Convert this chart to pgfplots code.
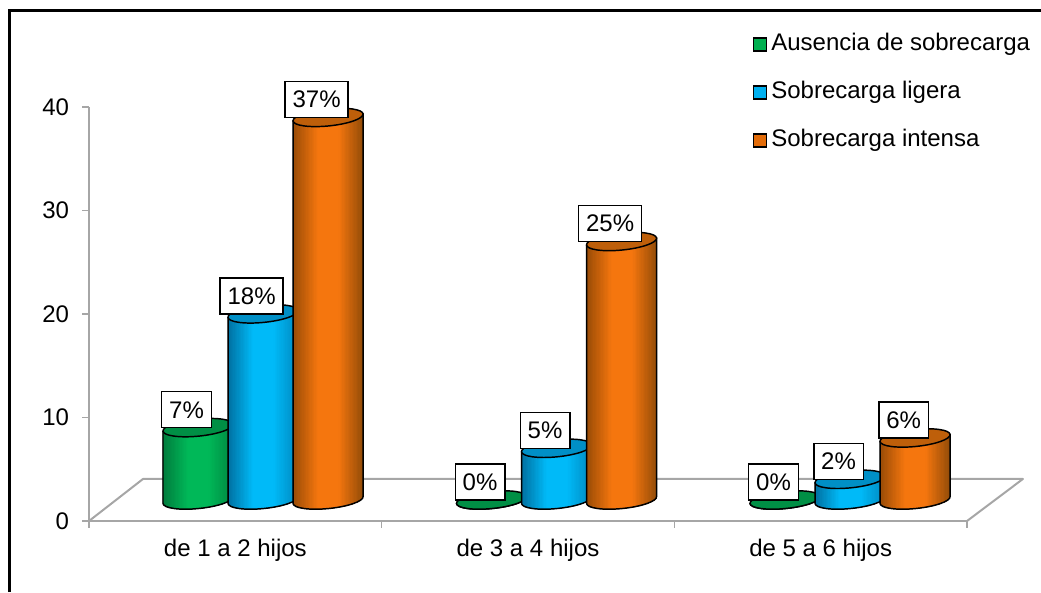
\documentclass[border=0pt]{standalone}
\usepackage{fontspec}
\setmainfont{Liberation Sans}
\usepackage{pgfplots}
\pgfplotsset{compat=1.18}
\definecolor{gL}{HTML}{007A3C}\definecolor{gM}{HTML}{00B858}\definecolor{gR}{HTML}{00843F}\definecolor{gT}{HTML}{008F45}
\definecolor{bL}{HTML}{006E9E}\definecolor{bM}{HTML}{00BAF8}\definecolor{bR}{HTML}{0086BC}\definecolor{bT}{HTML}{008FC6}
\definecolor{oL}{HTML}{964A06}\definecolor{oM}{HTML}{F5760E}\definecolor{oR}{HTML}{8F4A08}\definecolor{oT}{HTML}{BE5F0A}
\definecolor{lg}{HTML}{00B050}\definecolor{lb}{HTML}{00B0F0}\definecolor{lo}{HTML}{E36C09}
\definecolor{ax}{HTML}{A6A6A6}
\pgfdeclareplotmark{nothing}{}
\newcommand{\txt}{\fontsize{18}{22}\selectfont}
\newcommand{\bodypath}{%
    (-26.27pt,-2.62pt) -- (-26.27pt,\ya pt)
    .. controls (-25.92pt,\yb pt) and (-13.87pt,\yc pt) .. (0.636pt,\yd pt)
    .. controls (15.15pt,\ye pt) and (26.62pt,\yf pt) .. (26.27pt,\yg pt)
    -- (26.27pt,2.62pt) -- cycle}
% one cylinder, with its top at the data point and its height taken from the value
\newcommand{\drawcyl}[4]{%
  \pgfmathsetmacro\ya{-2.62-\val*7.755}%
  \pgfmathsetmacro\yb{-6.14-\val*7.755}%
  \pgfmathsetmacro\yc{-7.82-\val*7.755}%
  \pgfmathsetmacro\yd{-6.37-\val*7.755}%
  \pgfmathsetmacro\ye{-4.92-\val*7.755}%
  \pgfmathsetmacro\yf{-0.90-\val*7.755}%
  \pgfmathsetmacro\yg{2.62-\val*7.755}%
  \pgfmathsetmacro\ybot{\yc-3}%
  \begin{scope}
    \expandafter\clip\bodypath;
    \foreach \i in {0,...,53}{%
      \pgfmathsetmacro\xs{\i-27}%
      \ifnum\i<27
        \pgfmathtruncatemacro\p{min(100,140*\i/27)}%
        \fill[#2!\p!#1] (\xs pt,5pt) rectangle (27pt,\ybot pt);
      \else
        \pgfmathtruncatemacro\p{min(100,140*(54-\i)/27)}%
        \fill[#2!\p!#3] (\xs pt,5pt) rectangle (27pt,\ybot pt);
      \fi
    }%
  \end{scope}
  \expandafter\draw\expandafter[\bodystroke]\bodypath;
  \path[draw=black,line width=1.1pt,fill=#4]
    (-26.27pt,-2.62pt)
    .. controls (-25.92pt,-6.14pt) and (-13.87pt,-7.82pt) .. (0.636pt,-6.37pt)
    .. controls (15.15pt,-4.92pt) and (26.62pt,-0.90pt) .. (26.27pt,2.62pt)
    .. controls (25.92pt,6.14pt) and (13.87pt,7.82pt) .. (-0.636pt,6.37pt)
    .. controls (-15.15pt,4.92pt) and (-26.62pt,0.90pt) .. (-26.27pt,-2.62pt) -- cycle;
  \node[draw=black,fill=white,line width=1.1pt,inner ysep=0pt,inner xsep=5.6pt,minimum height=27pt,
    font=\txt,anchor=center]
    at (-8.6pt,13.4pt) {\pgfmathprintnumber[fixed,precision=0,assume math mode=true]{\val}\%};
}
\newcommand{\bodystroke}{black,line width=1.1pt,line join=round}
\pgfplotsset{cyl/.style n args={5}{only marks,scatter,mark=nothing,
    visualization depends on={rawy \as \val},
    scatter/@pre marker code/.code={},
    scatter/@post marker code/.code={\drawcyl{#1}{#2}{#3}{#4}},
    legend image code/.code={\draw[black,line width=1.1pt,fill=#5] (0pt,-4.8pt) rectangle (9.8pt,5pt);}}}
\begin{document}
\begin{tikzpicture}
\path[use as bounding box] (0,0) rectangle (780.75pt,-444pt);
\draw[black,line width=2.7pt] (7.1pt,-444pt) -- (7.1pt,-7.9pt) -- (780.75pt,-7.9pt);
% axes and floor
\begin{axis}[at={(66.75pt,-390.75pt)},anchor=south west,scale only axis,
  width=658.5pt,height=310.5pt,clip=false,
  xmin=0,xmax=3,ymin=0,ymax=40,
  axis x line*=bottom,axis y line*=left,axis line style={-,ax,line width=1.5pt},
  tick style={ax,line width=1.2pt},tick align=outside,major tick length=5pt,
  /pgf/number format/assume math mode=true,
  ytick={0,10,20,30,40},
  yticklabel style={font=\txt,text=black,xshift=-6.5pt},
  xtick={0,1,2,3},xticklabels={},
  extra x ticks={0.5,1.5,2.5},
  extra x tick labels={de 1 a 2 hijos,de 3 a 4 hijos,de 5 a 6 hijos},
  extra x tick style={major tick length=0pt,tick style={draw=none},
    xticklabel style={font=\txt,text=black,yshift=-10pt}},
]
\draw[ax,line width=1.5pt,line join=round] (axis cs:0,0) -- (axis cs:0.1845,4.06) -- (axis cs:3.191,4.06) -- (axis cs:3,0);
\end{axis}
% cylinders and legend
\begin{axis}[at={(66.75pt,-390.75pt)},anchor=south west,scale only axis,
  width=658.5pt,height=310.5pt,clip=false,axis lines=none,
  xmin=0.407,xmax=3.3985,ymin=-2.031,ymax=38.008,
  legend cell align=left,
  legend style={at={(rel axis cs:0.7557,1.179)},anchor=north west,draw=none,fill=none,inner sep=0pt,
    row sep=19pt,font=\txt,
    nodes={inner sep=0pt,text height=13pt,text depth=4pt},
    /tikz/column 1/.style={column sep=3pt}},
]
\addplot[cyl={gL}{gM}{gR}{gT}{lg}] coordinates {(0.7785,7) (1.7785,0) (2.7785,0)};
\addlegendentry{Ausencia de sobrecarga}
\addplot[cyl={bL}{bM}{bR}{bT}{lb}] coordinates {(1,18) (2,5) (3,2)};
\addlegendentry{Sobrecarga ligera}
\addplot[cyl={oL}{oM}{oR}{oT}{lo}] coordinates {(1.2215,37) (2.2215,25) (3.2215,6)};
\addlegendentry{Sobrecarga intensa}
\end{axis}
\end{tikzpicture}
\end{document}
